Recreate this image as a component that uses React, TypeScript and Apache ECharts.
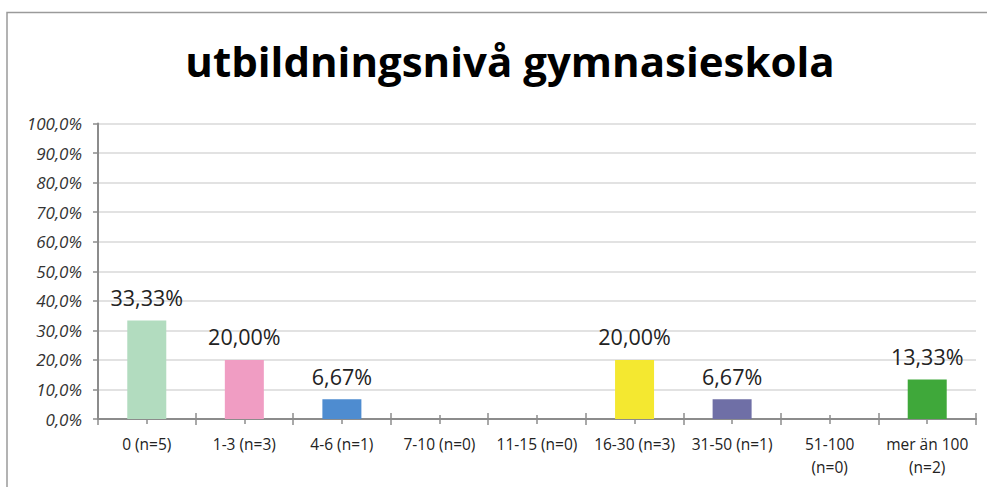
import React, { useEffect, useRef } from "react";
import * as echarts from "echarts";

const TITLE = "utbildningsnivå gymnasieskola";
const categories = [
  "0 (n=5)",
  "1-3 (n=3)",
  "4-6 (n=1)",
  "7-10 (n=0)",
  "11-15 (n=0)",
  "16-30 (n=3)",
  "31-50 (n=1)",
  "51-100\n(n=0)",
  "mer än 100\n(n=2)",
];
const values = [33.33, 20.0, 6.67, 0, 0, 20.0, 6.67, 0, 13.33];
const barColors = [
  "#b2dcbf",
  "#f09dc3",
  "#4e8cd0",
  "#4e8cd0",
  "#4e8cd0",
  "#f4e830",
  "#6f6fa6",
  "#6f6fa6",
  "#3fa83a",
];
const yTicks = [0, 10, 20, 30, 40, 50, 60, 70, 80, 90, 100];

const FONT = "Open Sans";

export default function App() {
  const ref = useRef<HTMLDivElement>(null);
  useEffect(() => {
    if (!ref.current) return;
    const chart = echarts.init(ref.current, undefined, { renderer: "svg" });
    const tickColor = "#8c8c8c";
    const baseX = {
      type: "category" as const,
      data: categories,
      position: "bottom" as const,
      axisLabel: { show: false },
      axisLine: { show: false },
      splitLine: { show: false },
    };
    chart.setOption({
      animation: false,
      backgroundColor: "#ffffff",
      title: {
        text: TITLE,
        left: 505,
        top: 34,
        textAlign: "center",
        textStyle: {
          fontFamily: FONT,
          fontWeight: "bold",
          fontSize: 42,
          color: "#000000",
        },
      },
      graphic: [
        {
          type: "polyline",
          shape: { points: [[7, 487], [7, 12.5], [987, 12.5]] },
          style: { stroke: "#9a9a9a", lineWidth: 1.5, fill: "none" },
        },
      ],
      grid: { left: 98, right: 11, top: 123.5, bottom: 68 },
      xAxis: [
        {
          type: "category",
          data: categories,
          position: "bottom",
          axisLine: { show: true, lineStyle: { color: tickColor, width: 2 } },
          axisTick: { show: true, length: 6, lineStyle: { color: tickColor, width: 1.5 } },
          axisLabel: {
            interval: 0,
            margin: 13,
            fontFamily: FONT,
            fontSize: 15.5,
            color: "#222222",
            lineHeight: 23,
          },
        },
        {
          ...baseX,
          axisTick: { show: true, inside: true, length: 6, lineStyle: { color: tickColor, width: 1.5 } },
        },
        {
          ...baseX,
          axisTick: { show: true, alignWithLabel: true, length: 5, lineStyle: { color: tickColor, width: 1.5 } },
        },
        {
          ...baseX,
          axisTick: { show: true, alignWithLabel: true, inside: true, length: 4, lineStyle: { color: tickColor, width: 1.5 } },
        },
      ],
      yAxis: {
        type: "value",
        min: yTicks[0],
        max: yTicks[yTicks.length - 1],
        interval: 10,
        axisLine: { show: true, lineStyle: { color: tickColor, width: 2 } },
        axisTick: { show: true, length: 5, lineStyle: { color: tickColor, width: 1.5 } },
        splitLine: { show: true, lineStyle: { color: "#d9d9d9", width: 1.5 } },
        axisLabel: {
          margin: 16,
          fontFamily: FONT,
          fontStyle: "italic",
          fontSize: 17,
          color: "#333333",
          formatter: (v: number) => v.toFixed(1).replace(".", ",") + "%",
        },
      },
      series: [
        {
          type: "bar",
          xAxisIndex: 0,
          barWidth: 39,
          data: values.map((v, i) => ({
            value: v,
            itemStyle: { color: barColors[i] },
            label: { show: v > 0 },
          })),
          label: {
            position: "top",
            distance: 12,
            fontFamily: FONT,
            fontSize: 21.5,
            color: "#222222",
            formatter: (p: any) => p.value.toFixed(2).replace(".", ",") + "%",
          },
        },
      ],
    });
    return () => chart.dispose();
  }, []);
  return (
    <div
      ref={ref}
      style={{ position: "fixed", left: 0, top: 0, width: 987, height: 487 }}
    />
  );
}
